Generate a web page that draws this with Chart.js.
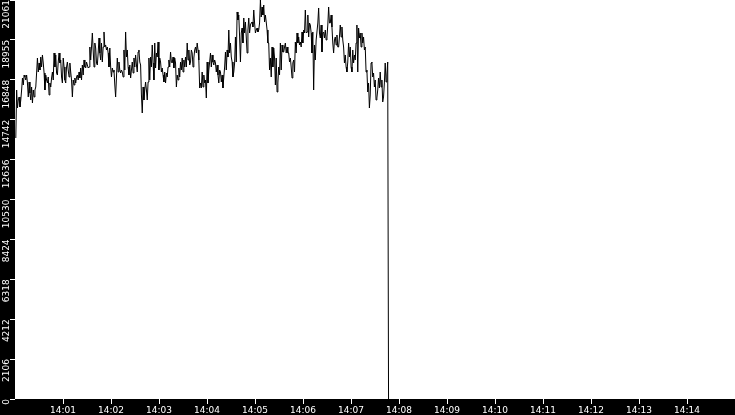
<!DOCTYPE html>
<html>
<head>
<meta charset="utf-8">
<script src="https://cdn.jsdelivr.net/npm/chart.js@4/dist/chart.umd.min.js"></script>
<style>
  html, body { margin: 0; padding: 0; background: #fff; }
  #wrap { width: 735px; height: 415px; }
</style>
</head>
<body>
<div id="wrap"><canvas id="rateChart" width="735" height="415"></canvas></div>
<script>
// samples, seconds counted from 14:00:00
const sampleStart = 1
const sampleStep = 1.04

// 14:00 - 14:02
const from1400 = [
  13776, 16310, 15360, 15783, 15941, 15413, 15783, 16310, 16943, 16574, 17102, 16996, 16838, 17102, 16680, 15941,
  16732, 16152, 15783, 16469, 15624, 16310, 15941, 16310, 16469, 17207, 17999, 17260, 17735, 17366, 18052, 17524,
  18158, 17735, 17207, 16310, 17102, 16838, 16680, 16996, 16047, 16680, 16469, 16943, 17260, 16838, 18263, 17524,
  18158, 17207, 17102, 17788, 18263, 17735, 17894, 16996, 16680, 17999, 17524, 16838, 16680, 17524, 17788, 17366,
  16996, 17735, 17260, 16838, 15941, 16838, 16574, 16943, 16680, 16996, 17102, 16838, 17260, 16943, 17471, 16838,
  17630, 17102, 17894, 17524, 17471, 17788, 17630, 17471, 17524, 18580, 17894, 18580, 19319, 18422, 17524, 18791,
  18527, 17735, 17630, 18263, 19055, 18263, 17894, 18791, 17788, 18580, 19372, 18580, 18686, 18422, 18580, 18263,
  17524, 18527, 17524, 16996
]

// 14:02 - 14:04
const from1402 = [
  17471, 17260, 17366, 16574, 15941, 16996, 17999, 17260, 17788, 17366, 17207, 17366, 17260, 16996, 18422, 17366,
  19372, 18052, 18422, 17524, 17102, 17630, 16943, 17366, 17788, 17207, 17999, 17524, 18158, 17630, 17260, 18316,
  18422, 17788, 17630, 16047, 15096, 16469, 15783, 16310, 16732, 16310, 15783, 16732, 17999, 16838, 18052, 17524,
  18686, 17735, 16838, 18791, 17471, 18263, 18052, 18844, 17366, 17999, 17788, 17260, 17471, 17102, 16732, 17260,
  16680, 17207, 16996, 17524, 17894, 17524, 18316, 17788, 17735, 18052, 17471, 17999, 17735, 16469, 17102, 16838,
  17471, 16996, 17788, 17366, 17999, 17260, 17894, 17524, 18052, 17524, 18791, 17894, 18422, 17630, 17788, 18422,
  18263, 17524, 17999, 18422, 18580, 18263, 18791, 18422, 17894, 16416, 16680, 16416, 17260, 16469, 17102, 16680,
  16838, 15888, 17788, 16680
]

// 14:04 - 14:06
const from1404 = [
  17366, 17788, 18263, 17524, 18158, 17788, 17630, 17894, 17735, 17260, 17630, 17102, 16680, 17366, 17260, 16732,
  17102, 16416, 16996, 17524, 18316, 17366, 18422, 18052, 19477, 18263, 18791, 18052, 17788, 16996, 17260, 17735,
  19108, 17788, 20428, 20005, 20269, 19108, 17788, 19319, 19583, 18791, 20111, 19319, 19900, 19108, 18263, 19477,
  20111, 19319, 19741, 19847, 19900, 19636, 20533, 19847, 19319, 19477, 19583, 19372, 19477, 19847, 21061, 20164,
  20691, 20269, 20797, 19900, 20269, 19900, 19477, 18791, 18791, 17366, 17999, 16996, 18580, 17524, 18527, 17999,
  16574, 17999, 16205, 16680, 17524, 17102, 18791, 17366, 18686, 18316, 18316, 18580, 18791, 18263, 18580, 18263,
  18263, 17788, 17999, 17524, 16943, 17735, 17894, 17260, 18844, 18263, 19319, 18791, 19108, 18686, 18844, 18580,
  19372, 18791, 19477, 19319
]

// 14:06 - 14:07:47, ends with the fall to zero
const from1406 = [
  20533, 19319, 19372, 20269, 19108, 19847, 19741, 19319, 18263, 19372, 16310, 18686, 17894, 18950, 18950, 19847,
  20639, 19319, 19055, 19741, 18316, 19319, 19372, 19055, 19477, 18950, 19108, 19741, 20691, 19847, 19847, 20269,
  19636, 18791, 18263, 18950, 19108, 18686, 19213, 18580, 18580, 19108, 19741, 19108, 19636, 18950, 18580, 17735,
  18158, 17524, 17260, 17788, 18791, 18052, 18580, 17524, 17260, 18422, 17735, 18158, 17894, 18791, 19741, 17260,
  19583, 19055, 19319, 18580, 19319, 18791, 19108, 18422, 18580, 17260, 17366, 16205, 16680, 15360, 16047, 17735,
  17788, 16996, 17207, 16469, 16838, 15783, 15888, 16310, 16943, 16416, 17260, 16469, 16838, 15677, 15941, 16680,
  17735, 16732, 17102, 17788, 0
]

const minuteTicks = [60, 120, 180, 240, 300, 360, 420, 480, 540, 600, 660, 720, 780, 840]
const minuteLabels = ['14:01', '14:02', '14:03', '14:04', '14:05', '14:06', '14:07',
  '14:08', '14:09', '14:10', '14:11', '14:12', '14:13', '14:14']
const valueTicks = [0, 2106, 4212, 6318, 8424, 10530, 12636, 14742, 16848, 18955, 21061]

const samples = from1400.concat(from1402, from1404, from1406)
const points = samples.map((v, i) => ({ x: sampleStart + i * sampleStep, y: v }))

Chart.defaults.font.family = "'DejaVu Sans', sans-serif"
Chart.defaults.font.size = 9

// black bands behind both axes
const axisBands = {
  id: 'axisBands',
  beforeDraw(chart) {
    const { ctx, chartArea, width, height } = chart
    ctx.save()
    ctx.fillStyle = '#fff'
    ctx.fillRect(0, 0, width, height)
    ctx.fillStyle = '#000'
    ctx.fillRect(0, 0, chartArea.left, height)
    ctx.fillRect(0, chartArea.bottom, width, height - chartArea.bottom)
    ctx.restore()
  }
}

new Chart(document.getElementById('rateChart'), {
  type: 'line',
  data: {
    datasets: [
      {
        data: points,
        borderColor: '#000',
        borderWidth: 1,
        pointRadius: 0,
        tension: 0,
        fill: false,
      }
    ]
  },
  options: {
    responsive: false,
    devicePixelRatio: 1,
    animation: false,
    layout: { padding: 0 },
    plugins: {
      legend: { display: false },
      tooltip: { enabled: false },
    },
    scales: {
      x: {
        type: 'linear',
        position: 'bottom',
        min: 0,
        max: 900,
        border: { display: false },
        grid: { drawOnChartArea: false, drawTicks: true, tickLength: 5, color: '#fff' },
        ticks: {
          color: '#fff',
          padding: 1,
          autoSkip: false,
          maxRotation: 0,
          minRotation: 0,
          callback: (value, index) => minuteLabels[index],
        },
        afterBuildTicks: (scale) => { scale.ticks = minuteTicks.map(v => ({ value: v })) },
        afterFit: (scale) => {
          scale.height = 16
          scale.paddingLeft = 0
          scale.paddingRight = 0
        },
      },
      y: {
        type: 'linear',
        position: 'left',
        min: 0,
        max: 21061,
        border: { display: false },
        grid: { drawOnChartArea: false, drawTicks: true, tickLength: 5, color: '#fff' },
        ticks: {
          color: '#fff',
          padding: 3,
          autoSkip: false,
          minRotation: 90,
          maxRotation: 90,
          callback: (value) => String(value),
        },
        afterBuildTicks: (scale) => { scale.ticks = valueTicks.map(v => ({ value: v })) },
        afterFit: (scale) => {
          scale.width = 15
          scale.paddingTop = 0
          scale.paddingBottom = 0
        },
      },
    },
  },
  plugins: [axisBands],
})
</script>
</body>
</html>
